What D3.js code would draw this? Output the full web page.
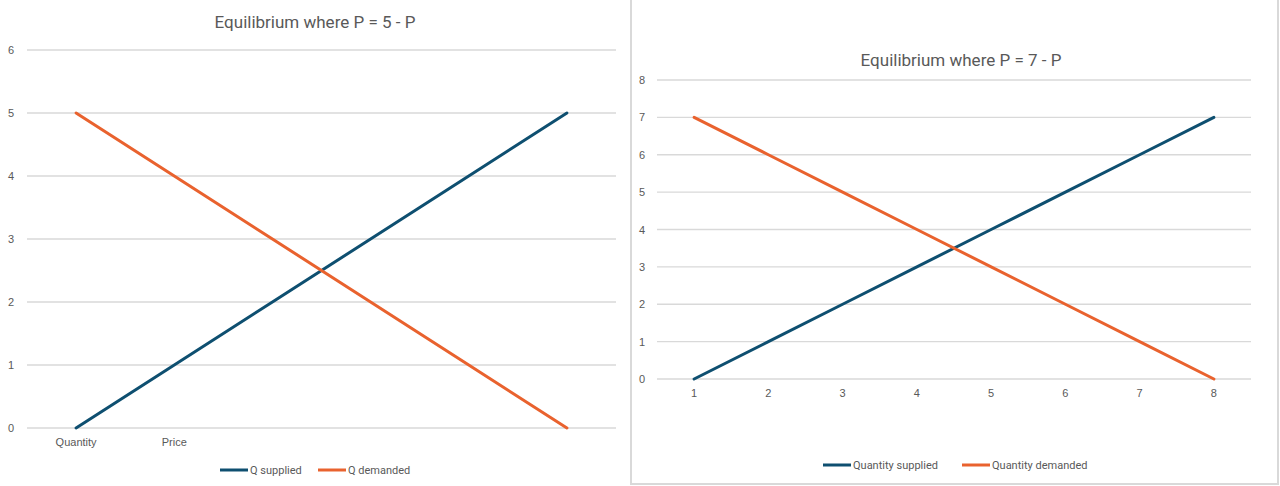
<!DOCTYPE html>
<html>
<head>
<meta charset="utf-8">
<script src="https://cdn.jsdelivr.net/npm/d3@7"></script>
<style>
  html, body { margin: 0; padding: 0; background: #fff; }
  svg { display: block; }
  text { font-family: "Liberation Sans Narrow", "Arial Narrow", "Roboto", sans-serif; fill: #595959; }
</style>
</head>
<body>
<svg id="chart" width="1280" height="486"></svg>
<script>
// ---- Data ----
const leftTitle = "Equilibrium where P = 5 - P";
const leftCategories = ["Quantity", "Price", "", "", "", ""];
const leftSupplied = [0, 1, 2, 3, 4, 5];
const leftDemanded = [5, 4, 3, 2, 1, 0];
const leftYTicks = [0, 1, 2, 3, 4, 5, 6];
const leftSeriesNames = ["Q supplied", "Q demanded"];

const rightTitle = "Equilibrium where P = 7 - P";
const rightCategories = ["1", "2", "3", "4", "5", "6", "7", "8"];
const rightSupplied = [0, 1, 2, 3, 4, 5, 6, 7];
const rightDemanded = [7, 6, 5, 4, 3, 2, 1, 0];
const rightYTicks = [0, 1, 2, 3, 4, 5, 6, 7, 8];
const rightSeriesNames = ["Quantity supplied", "Quantity demanded"];

const colors = ["#0E4F70", "#E9622E"];

const svg = d3.select("#chart");

// right chart border
svg.append("rect")
  .attr("x", 631).attr("y", -5).attr("width", 647).attr("height", 489)
  .attr("fill", "none").attr("stroke", "#D9D9D9").attr("stroke-width", 2);

function drawChart(cfg) {
  const g = svg.append("g");
  const x = d3.scaleBand().domain(d3.range(cfg.categories.length)).range([cfg.left, cfg.right]);
  const y = d3.scaleLinear().domain([0, cfg.yMax]).range([cfg.bottom, cfg.top]);

  // gridlines
  g.append("g").selectAll("line").data(cfg.yTicks).join("line")
    .attr("x1", cfg.left).attr("x2", cfg.right)
    .attr("y1", d => y(d)).attr("y2", d => y(d))
    .attr("stroke", "#D9D9D9").attr("stroke-width", 1.3);

  // y axis labels
  const yAxis = d3.axisLeft(y).tickValues(cfg.yTicks).tickFormat(d3.format("d")).tickSize(0).tickPadding(cfg.yPad);
  const ya = g.append("g").attr("transform", `translate(${cfg.left},0)`).call(yAxis);
  ya.select(".domain").remove();
  ya.selectAll("text").style("font-size", "11px").attr("fill", "#595959")
    .style("font-family", "'Liberation Sans Narrow', sans-serif");

  // x axis labels
  const xAxis = d3.axisBottom(x).tickSize(0).tickPadding(cfg.xPad).tickFormat(i => cfg.categories[i]);
  const xa = g.append("g").attr("transform", `translate(0,${cfg.bottom})`).call(xAxis);
  xa.select(".domain").remove();
  xa.selectAll("text").style("font-size", "11px").attr("fill", "#595959")
    .style("font-family", "'Liberation Sans Narrow', sans-serif");

  // lines
  const line = d3.line().x((d, i) => x(i) + x.bandwidth() / 2).y(d => y(d));
  [cfg.supplied, cfg.demanded].forEach((s, k) => {
    g.append("path").datum(s)
      .attr("d", line)
      .attr("fill", "none").attr("stroke", colors[k])
      .attr("stroke-width", 3).attr("stroke-linecap", "round").attr("stroke-linejoin", "round");
  });

  // title
  g.append("text").attr("x", cfg.titleX).attr("y", cfg.titleY)
    .attr("text-anchor", "middle").style("font-size", "17px").attr("fill", "#595959")
    .text(cfg.title);

  // legend
  cfg.names.forEach((n, k) => {
    const lx = cfg.legendX[k];
    g.append("line").attr("x1", lx).attr("x2", lx + 28)
      .attr("y1", cfg.legendY).attr("y2", cfg.legendY)
      .attr("stroke", colors[k]).attr("stroke-width", 3);
    g.append("text").attr("x", lx + 30).attr("y", cfg.legendY + 4)
      .style("font-size", "11px").attr("fill", "#595959").text(n);
  });
}

drawChart({
  title: leftTitle, categories: leftCategories, supplied: leftSupplied, demanded: leftDemanded,
  yTicks: leftYTicks, yMax: 6, names: leftSeriesNames,
  left: 27, right: 616, top: 50, bottom: 428, yPad: 13, xPad: 10,
  titleX: 315, titleY: 28, legendX: [220, 318], legendY: 470
});

drawChart({
  title: rightTitle, categories: rightCategories, supplied: rightSupplied, demanded: rightDemanded,
  yTicks: rightYTicks, yMax: 8, names: rightSeriesNames,
  left: 657, right: 1251, top: 80, bottom: 379, yPad: 12, xPad: 10,
  titleX: 961, titleY: 66, legendX: [823, 962], legendY: 465
});
</script>
</body>
</html>
